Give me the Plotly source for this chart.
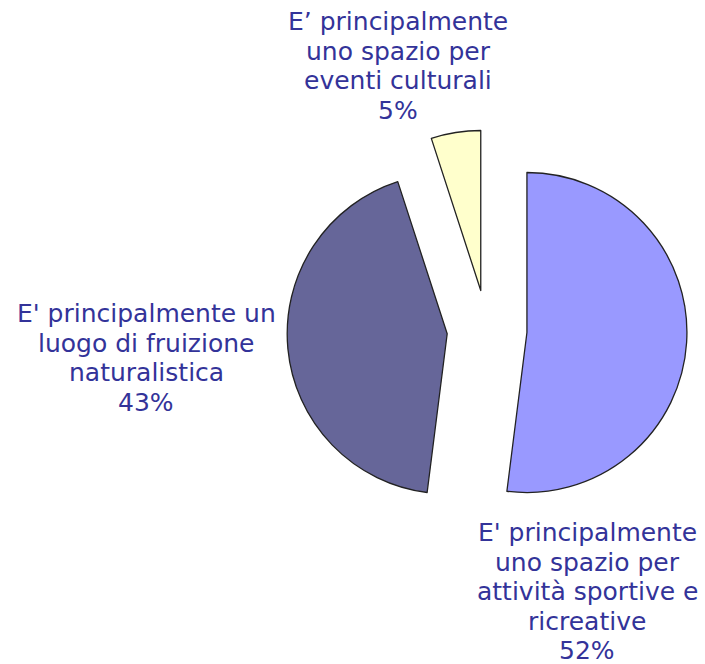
import plotly.graph_objects as go

# Survey answers: what the park is mainly seen as
label_lines = [
    ["E' principalmente", "uno spazio per", "attività sportive e", "ricreative"],
    ["E' principalmente un", "luogo di fruizione", "naturalistica"],
    ["E’ principalmente", "uno spazio per", "eventi culturali"],
]
values = [52, 43, 5]
colors = ["#9999FF", "#666699", "#FFFFCC"]

W, H = 705, 664

# Label block placement in pixels: centre x and first-line baseline
label_cx = [587, 146, 398]
label_first_baseline = [542, 323, 31]
LINE_STEP = 29.6
FONT_SIZE = 25
DESCENT = 7  # baseline to bottom of an annotation box

TEXT_COLOR = "#333399"
FONT = "DejaVu Sans"

fig = go.Figure(
    go.Pie(
        labels=[" ".join(l) for l in label_lines],
        values=values,
        sort=False,
        direction="clockwise",
        rotation=0,
        pull=[0.25, 0.25, 0.25],
        marker=dict(colors=colors, line=dict(color="#222222", width=1.3)),
        textinfo="none",
        hoverinfo="label+percent",
        domain=dict(x=[0.4071, 0.9745], y=[0.2018, 0.8042]),
        showlegend=False,
    )
)

for lines, v, cx, b0 in zip(label_lines, values, label_cx, label_first_baseline):
    for i, line in enumerate(lines + [f"{v}%"]):
        baseline = b0 + i * LINE_STEP
        fig.add_annotation(
            text=line,
            x=cx / W, y=(H - baseline - DESCENT) / H,
            xref="paper", yref="paper",
            xanchor="center", yanchor="bottom",
            showarrow=False, align="center",
            font=dict(family=FONT, size=FONT_SIZE, color=TEXT_COLOR),
        )

fig.update_layout(
    width=W, height=H,
    margin=dict(l=0, r=0, t=0, b=0),
    paper_bgcolor="white", plot_bgcolor="white",
)

fig.write_html("out.html")
